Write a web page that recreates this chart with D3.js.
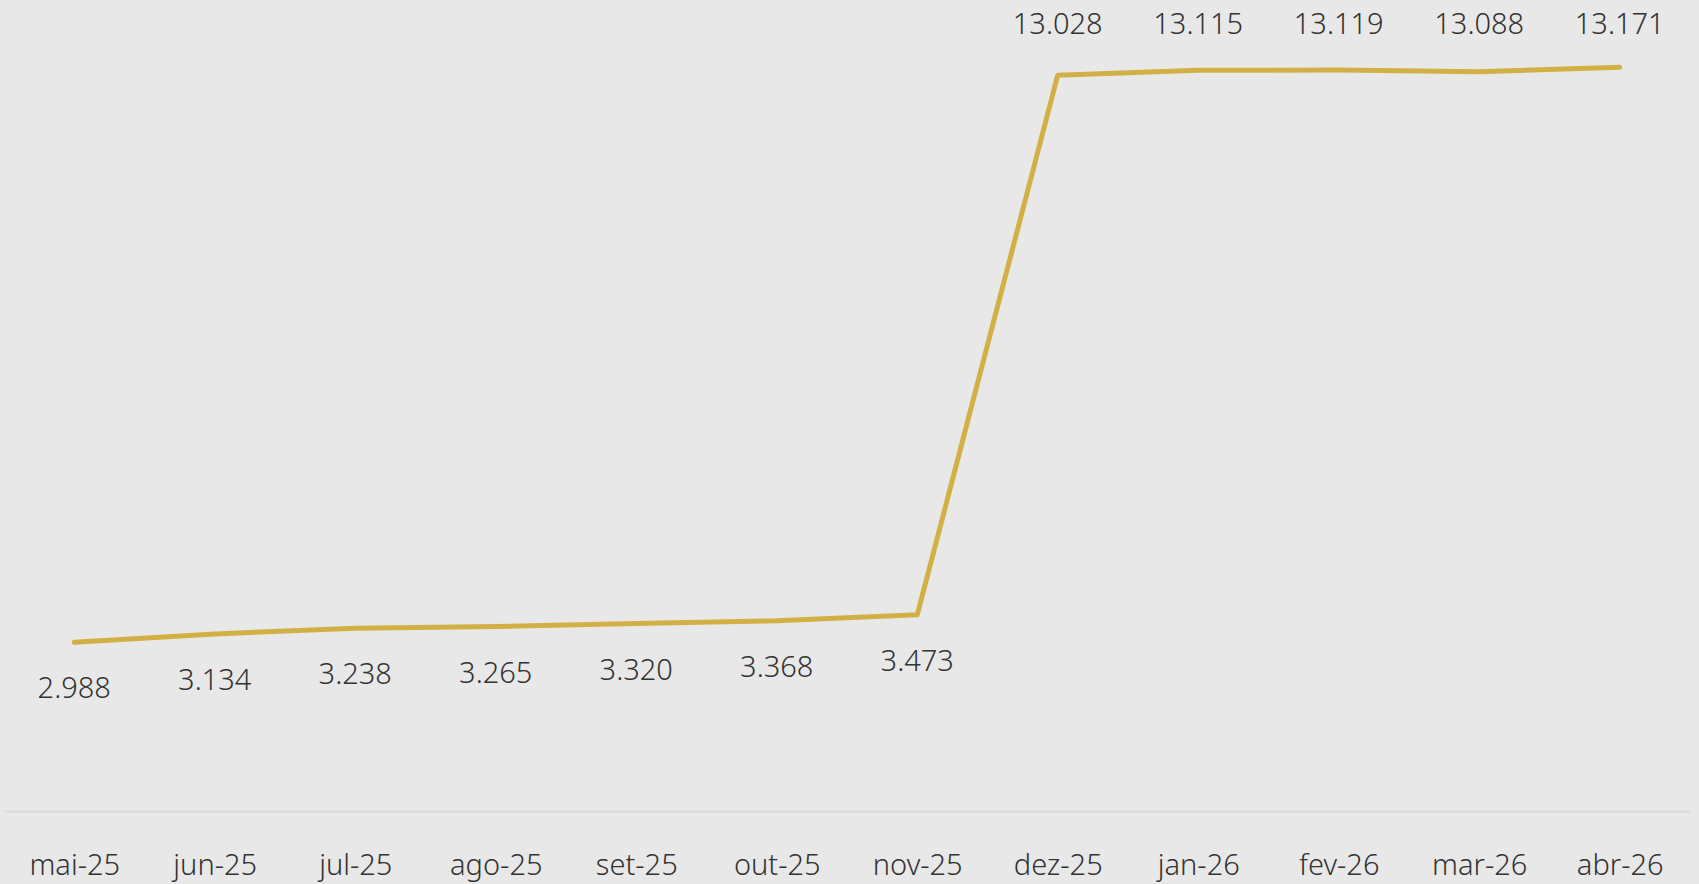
<!DOCTYPE html>
<html><head><meta charset="utf-8">
<script src="https://cdn.jsdelivr.net/npm/d3@7"></script>
<style>html,body{margin:0;padding:0;background:#e8e8e8;overflow:hidden}</style>
</head><body><svg id="c" width="1699" height="884"></svg>
<script>
const categories = ["mai-25","jun-25","jul-25","ago-25","set-25","out-25","nov-25","dez-25","jan-26","fev-26","mar-26","abr-26"];
const values = [2.988,3.134,3.238,3.265,3.320,3.368,3.473,13.028,13.115,13.119,13.088,13.171];
const valueLabels = ["2.988","3.134","3.238","3.265","3.320","3.368","3.473","13.028","13.115","13.119","13.088","13.171"];

const svg = d3.select("#c");
const W = 1699, H = 884;
svg.append("rect").attr("width", W).attr("height", H).attr("fill", "#e8e8e8");
const font = "'Noto Sans', 'Open Sans', sans-serif";

const x = d3.scalePoint().domain(categories).range([4, 1690]).padding(0.5);
const y = d3.scaleLinear().domain([0, 14.36]).range([811, 0]);

// baseline axis
const xAxis = d3.axisBottom(x).tickSize(0).tickPadding(43);
const gx = svg.append("g").attr("transform", "translate(0,811)").call(xAxis);
gx.select(".domain").attr("stroke", "#d9d9d9").attr("stroke-width", 2);
gx.selectAll("text").attr("font-family", font).attr("font-size", 29)
  .attr("font-weight", 300).attr("fill", "#333");

const line = d3.line().x((d,i) => x(categories[i])).y(d => y(d));
svg.append("path").datum(values).attr("d", line)
  .attr("fill", "none").attr("stroke", "#d3b045").attr("stroke-width", 5)
  .attr("stroke-linecap", "round").attr("stroke-linejoin", "round");

const minLabelY = 24;
svg.append("g").selectAll("text").data(values).join("text")
  .attr("x", (d,i) => x(categories[i]))
  .attr("y", (d,i) => d > 10 ? Math.max(y(d) - 52, minLabelY) : y(d) + 46)
  .attr("dy", "0.35em")
  .attr("text-anchor", "middle")
  .attr("font-family", font).attr("font-size", 29).attr("font-weight", 300).attr("fill", "#333")
  .text((d,i) => valueLabels[i]);
</script>
</body></html>
